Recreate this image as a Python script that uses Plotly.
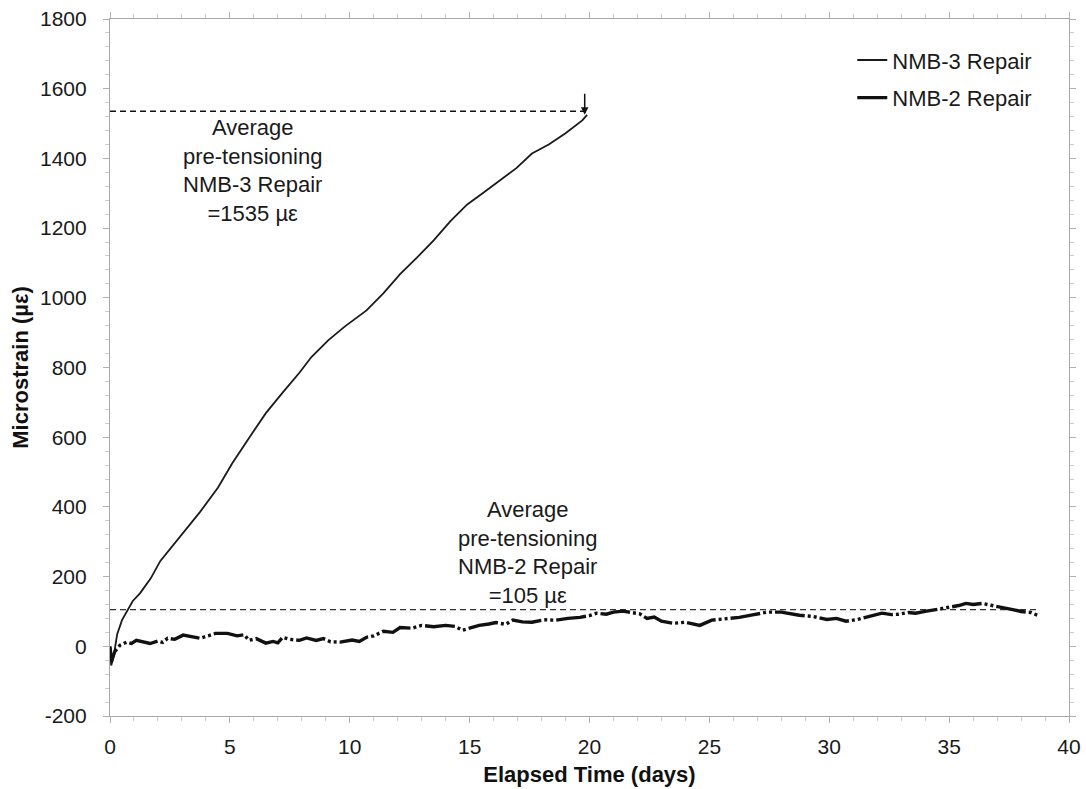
import plotly.graph_objects as go

# NMB-3 Repair (solid thin line)
nmb3_t = [0, 0.05, 0.15, 0.3, 0.5, 0.75, 0.95, 1.25, 1.7, 2.1, 2.8, 3.3, 3.75, 4.5, 5.1, 5.8, 6.5,
          7.2, 7.9, 8.4, 9.1, 9.8, 10.7, 11.4, 12.1, 12.8, 13.5, 14.2, 14.9, 15.6, 16.25,
          16.95, 17.6, 18.3, 19.0, 19.7, 19.9]
nmb3_v = [-10, -55, -30, 35, 75, 105, 130, 152, 195, 245, 305, 345, 385, 455, 525, 598, 669,
          728, 785, 830, 878, 918, 964, 1013, 1068, 1115, 1165, 1220, 1268, 1303, 1337,
          1372, 1414, 1440, 1472, 1509, 1525]

# NMB-2 Repair (thick dash-dot-dot line)
nmb2_t = [0, 0.05, 0.2, 0.42, 0.7, 0.9, 1.1, 1.4, 1.67, 2.0, 2.2, 2.4, 2.7, 3.05, 3.4, 3.75,
          4.1, 4.4, 4.9, 5.3, 5.6, 5.8, 6.1, 6.5, 6.8, 7.0, 7.2, 7.5, 7.9, 8.2, 8.6, 8.9,
          9.2, 9.6, 10.1, 10.4, 10.7, 11.0, 11.4, 11.8, 12.1, 12.6, 13.0, 13.5, 14.0, 14.4,
          14.7, 15.0, 15.4, 15.8, 16.1, 16.5, 16.8, 17.2, 17.6, 18.1, 18.6, 19.1, 19.6, 20.0,
          20.3, 20.7, 21.0, 21.4, 21.8, 22.1, 22.4, 22.7, 23.0, 23.5, 24.0, 24.3, 24.6, 25.1,
          25.6, 26.25, 26.8, 27.4, 28.0, 28.4, 28.75, 29.3, 29.9, 30.3, 30.7, 31.1, 31.5,
          32.2, 32.6, 32.9, 33.3, 33.6, 34.0, 34.3, 34.7, 35.0, 35.4, 35.7, 36.0, 36.4,
          36.8, 37.1, 37.6, 38.0, 38.4, 38.7]
nmb2_v = [0, -45, -15, 3, 12, 8, 17, 12, 8, 15, 11, 23, 20, 32, 28, 23,
          30, 37, 37, 30, 33, 17, 22, 9, 14, 10, 26, 20, 17, 24, 17, 22,
          13, 12, 18, 14, 26, 30, 43, 40, 54, 52, 60, 56, 60, 57,
          46, 52, 60, 64, 68, 63, 75, 70, 69, 76, 75, 80, 83, 88,
          95, 92, 98, 101, 97, 93, 80, 84, 72, 66, 69, 65, 60, 75,
          78, 83, 90, 98, 98, 94, 89, 86, 77, 80, 72, 76, 83,
          95, 91, 92, 97, 95, 100, 103, 108, 112, 117, 123, 120, 123,
          117, 112, 106, 100, 97, 89]

# Average pre-tensioning reference levels
ref3_t = [0, 20]
ref3_v = [1535, 1535]
ref2_t = [0, 38.7]
ref2_v = [105, 105]

x_ticks = [0, 5, 10, 15, 20, 25, 30, 35, 40]
y_ticks = [-200, 0, 200, 400, 600, 800, 1000, 1200, 1400, 1600, 1800]
y_labels = ["-200", "0", "200", "400", "600", "800", "1000", "1200", "1400", "1600", "1800"]

FONT = "Liberation Sans, Arial, sans-serif"

fig = go.Figure()
fig.add_trace(go.Scatter(x=ref3_t, y=ref3_v, mode="lines", showlegend=False,
                         line=dict(color="#111111", width=1.5, dash="6px,4px")))
fig.add_trace(go.Scatter(x=ref2_t, y=ref2_v, mode="lines", showlegend=False,
                         line=dict(color="#333333", width=1.2, dash="6px,4px")))
fig.add_trace(go.Scatter(x=nmb3_t, y=nmb3_v, mode="lines", name="NMB-3 Repair",
                         legendgroup="a",
                         line=dict(color="#1a1a1a", width=1.8)))
fig.add_trace(go.Scatter(x=nmb2_t, y=nmb2_v, mode="lines", name="NMB-2 Repair",
                         legendgroup="b",
                         line=dict(color="#111111", width=3.4, dash="30px,3px,3px,3px,3px,3px")))

fig.add_annotation(x=5.96, y=1364, xref="x", yref="y", showarrow=False,
                   text="Average<br>pre-tensioning<br>NMB-3 Repair<br>=1535 µε",
                   font=dict(family=FONT, size=22, color="#1a1a1a"))
fig.add_annotation(x=17.4, y=268, xref="x", yref="y", showarrow=False,
                   text="Average<br>pre-tensioning<br>NMB-2 Repair<br>=105 µε",
                   font=dict(family=FONT, size=22, color="#1a1a1a"))
fig.add_annotation(x=19.8, y=1525, ax=19.8, ay=1590, xref="x", yref="y",
                   axref="x", ayref="y", text="", showarrow=True,
                   arrowhead=2, arrowsize=1, arrowwidth=1.5, arrowcolor="#111111")

axis_common = dict(showline=True, linecolor="#a8a8a8", linewidth=1.2, mirror="allticks",
                   ticks="outside", tickcolor="#b0b0b0", ticklen=6, showgrid=False,
                   zeroline=False, automargin=False,
                   tickfont=dict(family=FONT, size=21, color="#1a1a1a"))

fig.update_xaxes(range=[0, 40], tickvals=x_ticks, **axis_common,
                 minor=dict(dtick=1, ticks="outside", ticklen=4, tickcolor="#cccccc"),
                 ticklabelstandoff=6,
                 title=dict(text="<b>Elapsed Time (days)</b>", standoff=9,
                            font=dict(family=FONT, size=22, color="#111111")))
fig.update_yaxes(range=[-200, 1800], tickvals=y_ticks, ticktext=y_labels, **axis_common,
                 minor=dict(dtick=40, ticks="outside", ticklen=4, tickcolor="#cccccc"),
                 ticklabelstandoff=12,
                 title=dict(text="<b>Microstrain (µε)</b>", standoff=5,
                            font=dict(family=FONT, size=22, color="#111111")))

fig.update_layout(
    width=1086, height=789,
    margin=dict(l=110, r=17, t=19, b=73),
    plot_bgcolor="white", paper_bgcolor="white",
    font=dict(family=FONT, size=21, color="#1a1a1a"),
    legend=dict(x=0.774, y=0.971, xanchor="left", yanchor="top",
                bgcolor="rgba(0,0,0,0)", tracegroupgap=6,
                font=dict(family=FONT, size=22, color="#1a1a1a")),
)

fig.write_html("out.html")
